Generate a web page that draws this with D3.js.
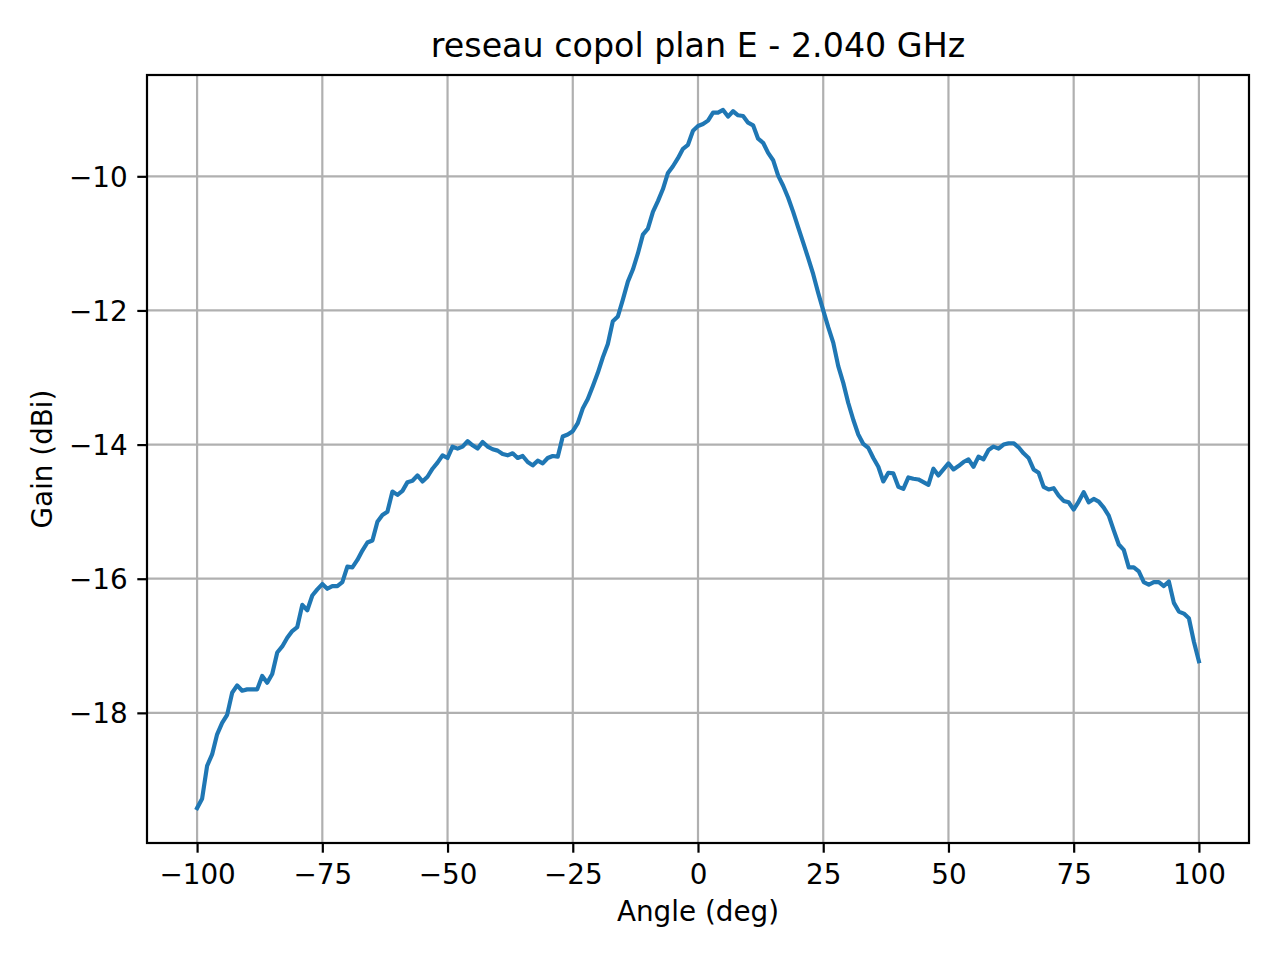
<!DOCTYPE html>
<html>
<head>
<meta charset="utf-8">
<script src="https://cdn.jsdelivr.net/npm/d3@7"></script>
<style>
  html, body { margin: 0; padding: 0; background: #fff; }
  svg { display: block; font-family: "DejaVu Sans", sans-serif; }
</style>
</head>
<body>
<svg id="chart" width="1280" height="960"></svg>
<script>
// ---- data ----
const title = "reseau copol plan E - 2.040 GHz";
const xLabel = "Angle (deg)";
const yLabel = "Gain (dBi)";
const angles = d3.range(-100, 101, 1);
const gain = [
  -19.42, -19.28, -18.79, -18.62, -18.32, -18.15, -18.03, -17.70, -17.59, -17.67,
  -17.65, -17.65, -17.65, -17.45, -17.55, -17.42, -17.10, -17.01, -16.88, -16.78,
  -16.72, -16.39, -16.47, -16.25, -16.16, -16.08, -16.15, -16.11, -16.11, -16.05,
  -15.82, -15.83, -15.72, -15.58, -15.46, -15.43, -15.15, -15.05, -15.00, -14.70,
  -14.75, -14.69, -14.56, -14.54, -14.46, -14.55, -14.48, -14.36, -14.27, -14.16,
  -14.20, -14.03, -14.06, -14.03, -13.95, -14.01, -14.06, -13.96, -14.03, -14.07,
  -14.09, -14.14, -14.16, -14.13, -14.20, -14.17, -14.26, -14.31, -14.24, -14.28,
  -14.20, -14.17, -14.18, -13.88, -13.85, -13.80, -13.68, -13.46, -13.32, -13.13,
  -12.93, -12.70, -12.50, -12.16, -12.09, -11.84, -11.57, -11.39, -11.15, -10.87,
  -10.78, -10.53, -10.37, -10.19, -9.95, -9.85, -9.73, -9.59, -9.53, -9.32,
  -9.25, -9.22, -9.17, -9.05, -9.05, -9.01, -9.11, -9.03, -9.09, -9.10,
  -9.20, -9.24, -9.44, -9.50, -9.65, -9.76, -9.99, -10.14, -10.32, -10.53,
  -10.76, -10.99, -11.22, -11.46, -11.74, -12.00, -12.25, -12.48, -12.83, -13.08,
  -13.38, -13.63, -13.85, -13.99, -14.05, -14.20, -14.33, -14.55, -14.42, -14.43,
  -14.63, -14.66, -14.49, -14.51, -14.52, -14.56, -14.60, -14.36, -14.46, -14.37,
  -14.28, -14.37, -14.32, -14.26, -14.22, -14.33, -14.18, -14.22, -14.08, -14.03,
  -14.06, -14.00, -13.98, -13.98, -14.04, -14.13, -14.20, -14.37, -14.42, -14.63,
  -14.67, -14.65, -14.76, -14.84, -14.86, -14.97, -14.85, -14.71, -14.86, -14.81,
  -14.85, -14.94, -15.06, -15.28, -15.49, -15.57, -15.83, -15.83, -15.89, -16.05,
  -16.09, -16.05, -16.05, -16.11, -16.04, -16.36, -16.49, -16.52, -16.59, -16.94,
  -17.23
];
const xTicks = [-100, -75, -50, -25, 0, 25, 50, 75, 100];
const yTicks = [-10, -12, -14, -16, -18];

// ---- layout ----
const L = 147, R = 1249, T = 75, B = 843;
const svg = d3.select("#chart");

const xMin = d3.min(angles), xMax = d3.max(angles);
const xPad = (xMax - xMin) * 0.05;
const yMin = d3.min(gain), yMax = d3.max(gain);
const yPad = (yMax - yMin) * 0.05;

const x = d3.scaleLinear().domain([xMin - xPad, xMax + xPad]).range([L, R]);
const y = d3.scaleLinear().domain([yMin - yPad, yMax + yPad]).range([B, T]);

const fmt = d => (d < 0 ? "\u2212" + Math.abs(d) : String(d));

// grid
const grid = svg.append("g");
grid.selectAll("line.vx").data(xTicks).enter().append("line")
  .attr("x1", d => x(d)).attr("x2", d => x(d)).attr("y1", T).attr("y2", B)
  .attr("stroke", "#b0b0b0").attr("stroke-width", 2.2);
grid.selectAll("line.hy").data(yTicks).enter().append("line")
  .attr("x1", L).attr("x2", R).attr("y1", d => y(d)).attr("y2", d => y(d))
  .attr("stroke", "#b0b0b0").attr("stroke-width", 2.2);

// line
const line = d3.line().x((d, i) => x(angles[i])).y(d => y(d));
svg.append("path").datum(gain)
  .attr("d", line)
  .attr("fill", "none")
  .attr("stroke", "#1f77b4")
  .attr("stroke-width", 4.17)
  .attr("stroke-linejoin", "round")
  .attr("stroke-linecap", "square");

// axes
const xAxis = d3.axisBottom(x).tickValues(xTicks).tickFormat(fmt).tickSize(9.7).tickPadding(9.7);
const yAxis = d3.axisLeft(y).tickValues(yTicks).tickFormat(fmt).tickSize(9.7).tickPadding(9.7);

const gx = svg.append("g").attr("transform", `translate(0,${B})`).call(xAxis);
const gy = svg.append("g").attr("transform", `translate(${L},0)`).call(yAxis);
[gx, gy].forEach(g => {
  g.select(".domain").remove();
  g.selectAll(".tick line").attr("stroke", "#000").attr("stroke-width", 2.2);
  g.selectAll(".tick text").attr("fill", "#000")
    .style("font-family", "DejaVu Sans").style("font-size", "27.8px");
});
gx.selectAll(".tick text").attr("dy", null).attr("y", 41);
gy.selectAll(".tick text").attr("dy", "0.36em");

// spines
svg.append("rect").attr("x", L).attr("y", T).attr("width", R - L).attr("height", B - T)
  .attr("fill", "none").attr("stroke", "#000").attr("stroke-width", 2.2);

// labels
svg.append("text").attr("x", (L + R) / 2).attr("y", 57)
  .attr("text-anchor", "middle").style("font-size", "33.3px").text(title);
svg.append("text").attr("x", (L + R) / 2).attr("y", 921)
  .attr("text-anchor", "middle").style("font-size", "27.8px").text(xLabel);
svg.append("text")
  .attr("transform", `translate(52,${(T + B) / 2}) rotate(-90)`)
  .attr("text-anchor", "middle").style("font-size", "27.8px").text(yLabel);
</script>
</body>
</html>
